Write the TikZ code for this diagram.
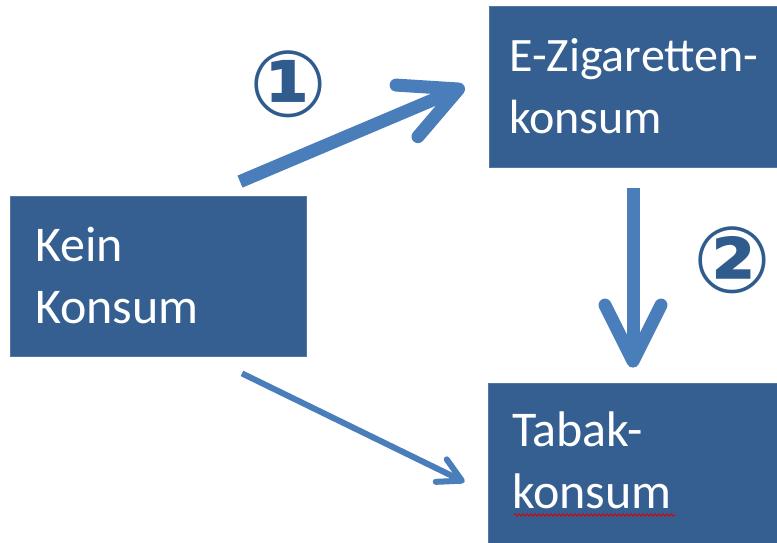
\documentclass[tikz,border=0pt]{standalone}
\usepackage{fontspec}
\setmainfont{Carlito}
\newfontfamily\symfont{DejaVu Sans}
\usetikzlibrary{arrows.meta,decorations.pathmorphing}
\definecolor{boxblue}{HTML}{365F91}
\definecolor{arrowblue}{HTML}{4A7EBB}
\definecolor{numblue}{HTML}{2F5B8D}

\begin{document}
\begin{tikzpicture}[x=1pt,y=-1pt,
  box/.style={draw=boxblue!85!white, fill=boxblue, line width=0.8pt, inner sep=0pt},
  boxtext/.style={anchor=base west, inner sep=0pt, align=left, text=white, font=\fontsize{48}{62}\selectfont},
  bigtext/.style={boxtext, font=\fontsize{50}{62}\selectfont},
  num/.style={inner sep=0pt, text=numblue, font=\symfont\bfseries\fontsize{92}{92}\selectfont},
  bigarrow/.style={arrowblue, line width=13pt, -{Straight Barb[length=56pt, width=56pt, round]}},
  thinarrow/.style={arrowblue, line width=6pt, -{Straight Barb[length=23pt, width=25pt, round]}}]
\useasboundingbox (0,0) rectangle (777,543);

% boxes
\node[box, minimum width=296pt, minimum height=160pt] (kein) at (158,276) {};
\node[box, minimum width=311pt, minimum height=161pt] (ezig) at (644.5,86.5) {};
\node[box, minimum width=312pt, minimum height=177pt] (tabak) at (644,471.5) {};

% texts (base = last line)
\node[bigtext] (keintext) at (35,323) {Kein\\Konsum};
\node[boxtext] (ezigtext) at (509,133) {E-Zigaretten-\\konsum};
\node[bigtext] (tabaktext) at (512,508) {Tabak-\\konsum};
\draw[red!85!black, line width=0.8pt, decorate, decoration={snake, amplitude=1.3pt, segment length=4pt}] (514,515) -- (676,515);

% numbers
\node[num] (one) at (288,84) {①};
\node[num] (two) at (732,260) {②};

% arrows
\draw[bigarrow] ([xshift=82pt,yshift=14pt]kein.north) -- ([xshift=-24pt]ezig.west);
\draw[bigarrow] ([xshift=-11.5pt,yshift=-21pt]ezig.south) -- ([xshift=-11pt,yshift=15pt]tabak.north);
\draw[thinarrow] ([xshift=84pt,yshift=-17pt]kein.south) -- ([xshift=-23pt,yshift=-10.5pt]tabak.west);
\end{tikzpicture}
\end{document}
